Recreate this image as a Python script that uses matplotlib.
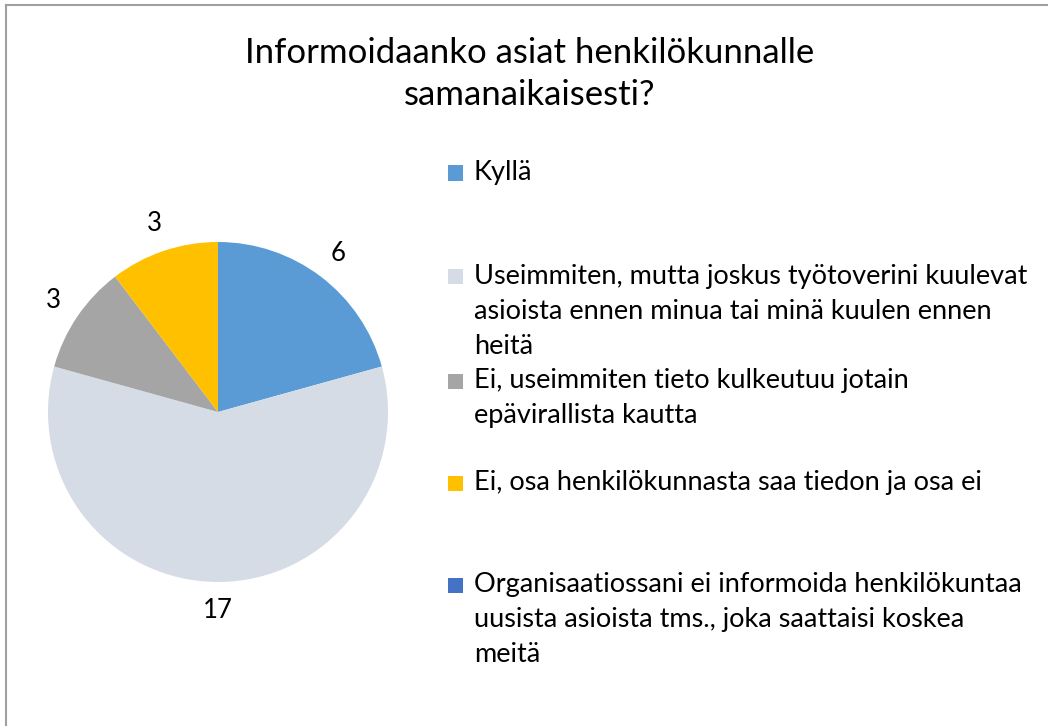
import matplotlib.pyplot as plt
from matplotlib.patches import Rectangle
from matplotlib.lines import Line2D

title = 'Informoidaanko asiat henkilökunnalle\nsamanaikaisesti?'
categories = ['Kyllä',
              'Useimmiten, mutta joskus työtoverini kuulevat\nasioista ennen minua tai minä kuulen ennen\nheitä',
              'Ei, useimmiten tieto kulkeutuu jotain\nepävirallista kautta',
              'Ei, osa henkilökunnasta saa tiedon ja osa ei',
              'Organisaatiossani ei informoida henkilökuntaa\nuusista asioista tms., joka saattaisi koskea\nmeitä']
values = [6, 17, 3, 3, 0]
colors = ['#5B9BD5', '#D6DCE5', '#A5A5A5', '#FFC000', '#4472C4']

plt.rcParams['font.family'] = ['Lato', 'DejaVu Sans']

W, H = 1048, 726
fig = plt.figure(figsize=(W / 100, H / 100), dpi=100)
fig.patch.set_facecolor('white')

# frame on the left and top edges only
fig.add_artist(Line2D([5.5 / W, 5.5 / W], [0, 1 - 4.5 / H], color='#A0A0A0', lw=1.5))
fig.add_artist(Line2D([5.5 / W, 1], [1 - 4.5 / H, 1 - 4.5 / H], color='#A0A0A0', lw=1.5))

# pie axes, centre (218, 412) px, radius 170 px
cx, cy, r = 218, 412, 170
ax = fig.add_axes([(cx - r) / W, (H - cy - r) / H, 2 * r / W, 2 * r / H])
total = sum(values)
wedges, texts, autotexts = ax.pie(
    values, colors=colors, startangle=90, counterclock=False,
    autopct=lambda p: '' if p < 0.01 else '%d' % round(p * total / 100),
    pctdistance=1.17, textprops={'fontsize': 18.5, 'color': '#000000'})
ax.set_xlim(-1, 1)
ax.set_ylim(-1, 1)
ax.set_aspect('auto')
ax.axis('off')

fig.text(530 / W, 1 - 74 / H, title, ha='center', va='center', fontsize=25,
         linespacing=1.39, color='#000000')

# legend
first_line_y = [173, 277, 381, 483, 585]
for lab, col, y in zip(categories, colors, first_line_y):
    fig.add_artist(Rectangle(((448) / W, 1 - (y + 7.5) / H), 15 / W, 15 / H,
                             facecolor=col, edgecolor='none', transform=fig.transFigure))
    fig.text(474 / W, 1 - (y - 13) / H, lab, ha='left', va='top', fontsize=19.5,
             linespacing=1.5, color='#000000')

fig.savefig('out.png', dpi=100)
